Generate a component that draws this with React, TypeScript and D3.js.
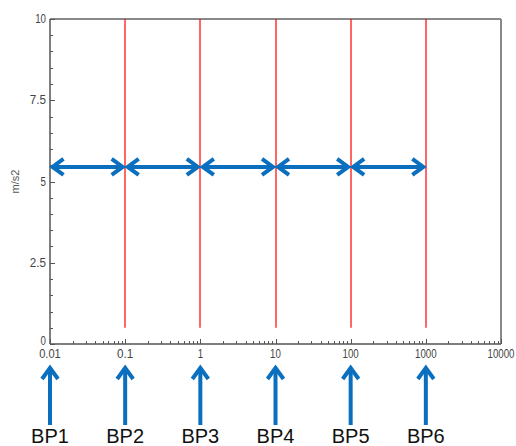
import React from "react";
import * as d3 from "d3";

// axis ticks
const xTicks = [0.01, 0.1, 1, 10, 100, 1000, 10000];
const xTickLabels = ["0.01", "0.1", "1", "10", "100", "1000", "10000"];
const yTicks = [0, 2.5, 5, 7.5, 10];
const yTickLabels = ["0", "2.5", "5", "7.5", "10"];
const yUnit = "m/s2";

// red break lines (x position, from y=0.5 to top)
const breakLines = [0.1, 1, 10, 100, 1000];
const breakLineFrom = 0.5;
const breakLineTo = 10;

// double arrows between break points
const spanStarts = [0.01, 0.1, 1, 10, 100];
const spanEnds = [0.1, 1, 10, 100, 1000];
const spanLevel = 5.45;

// break point markers under the axis
const bpNames = ["BP1", "BP2", "BP3", "BP4", "BP5", "BP6"];
const bpValues = [0.01, 0.1, 1, 10, 100, 1000];

const W = 516;
const H = 446;
const margin = { top: 19, right: 15, bottom: 102, left: 50 };
const tickFont = "Liberation Sans, Arial, sans-serif";

export default function App() {
  const x = d3.scaleLog().domain([0.01, 10000]).range([margin.left, W - margin.right]);
  const y = d3.scaleLinear().domain([0, 10]).range([H - margin.bottom, margin.top]);
  const px = (v: number) => Math.round(x(v)) + 0.5;
  const py = (v: number) => Math.round(y(v)) + 0.5;

  const x0 = x.range()[0];
  const x1 = x.range()[1];
  const y0 = y.range()[0];
  const y1 = y.range()[1];

  // minor x ticks: 2..9 of each decade
  const xMinor: number[] = [];
  for (let i = 0; i < xTicks.length - 1; i++) {
    for (let k = 2; k <= 9; k++) xMinor.push(xTicks[i] * k);
  }
  const yMinor = d3.range(0, 10.01, 0.5).filter(v => !yTicks.includes(v));

  const blue = "#0a6fbf";
  const axisColor = "#555";

  const arrowHead = (tx: number, ty: number, dx: number, dy: number) => {
    // chevron with tip at (tx,ty), pointing in direction (dx,dy)
    const len = 11;
    const half = 8;
    const bx = tx - dx * len;
    const by = ty - dy * len;
    const ox = -dy * half;
    const oy = dx * half;
    return `M${bx + ox},${by + oy}L${tx},${ty}L${bx - ox},${by - oy}`;
  };

  return (
    <svg width={W} height={H} style={{ position: "absolute", left: 0, top: 0, background: "#fff" }}>
      {/* frame */}
      <line x1={x0} x2={x1} y1={y1} y2={y1} stroke="#888" strokeWidth={2} />
      <line x1={x1} x2={x1} y1={y1} y2={y0} stroke="#888" strokeWidth={2} />

      {/* red break lines */}
      {breakLines.map(v => (
        <line key={"r" + v} x1={Math.round(x(v))} x2={Math.round(x(v))} y1={y(breakLineTo)} y2={y(breakLineFrom)} stroke="#ff0000" strokeWidth={1.2} />
      ))}

      {/* y axis */}
      <line x1={x0} x2={x0} y1={y1} y2={y0} stroke={axisColor} strokeWidth={1.5} />
      {yTicks.map(v => (
        <line key={"yt" + v} x1={x0} x2={x0 + 5} y1={py(v)} y2={py(v)} stroke={axisColor} />
      ))}
      {yMinor.map(v => (
        <line key={"ym" + v} x1={x0} x2={x0 + 3} y1={py(v)} y2={py(v)} stroke={axisColor} />
      ))}
      {yTicks.map((v, i) => (
        <text
          key={"yl" + v}
          x={x0 - 4}
          y={v === 0 ? y(v) + 1 : y(v) + 4}
          textAnchor="end"
          fontFamily={tickFont}
          fontSize={12}
          fill="#444"
          textLength={yTickLabels[i].length * 5.4}
          lengthAdjust="spacingAndGlyphs"
        >
          {yTickLabels[i]}
        </text>
      ))}
      <text
        transform={`translate(19,${(y0 + y1) / 2}) rotate(-90)`}
        textAnchor="middle"
        fontFamily={tickFont}
        fontSize={11}
        fill="#555"
      >
        {yUnit}
      </text>

      {/* x axis */}
      <line x1={x0} x2={x1} y1={y0} y2={y0} stroke={axisColor} strokeWidth={1.5} />
      {xTicks.map(v => (
        <line key={"xt" + v} x1={px(v)} x2={px(v)} y1={y0} y2={y0 - 5} stroke={axisColor} />
      ))}
      {xMinor.map(v => (
        <line key={"xm" + v} x1={px(v)} x2={px(v)} y1={y0} y2={y0 - 3} stroke={axisColor} />
      ))}
      {xTicks.map((v, i) => (
        <text
          key={"xl" + v}
          x={x(v)}
          y={y0 + 14}
          textAnchor="middle"
          fontFamily={tickFont}
          fontSize={12}
          fill="#444"
          textLength={xTickLabels[i].length * 5.4}
          lengthAdjust="spacingAndGlyphs"
        >
          {xTickLabels[i]}
        </text>
      ))}

      {/* double arrows */}
      {spanStarts.map((a, i) => {
        const xa = x(a) + 2.5;
        const xb = x(spanEnds[i]) - 2.5;
        const yy = y(spanLevel);
        return (
          <g key={"da" + i} fill="none" stroke={blue} strokeWidth={4}>
            <line x1={xa + 1} x2={xb - 1} y1={yy} y2={yy} />
            <path d={arrowHead(xa, yy, -1, 0)} strokeLinejoin="miter" />
            <path d={arrowHead(xb, yy, 1, 0)} strokeLinejoin="miter" />
          </g>
        );
      })}

      {/* break point markers */}
      {bpValues.map((v, i) => {
        const cx = x(v);
        const top = y0 + 24;
        const bottom = y0 + 81;
        return (
          <g key={"bp" + i}>
            <g fill="none" stroke={blue} strokeWidth={4}>
              <line x1={cx} x2={cx} y1={top + 1} y2={bottom} />
              <path d={arrowHead(cx, top, 0, -1)} strokeLinejoin="miter" />
            </g>
            <text x={cx} y={H - 3} textAnchor="middle" fontFamily="Liberation Sans, Arial, sans-serif" fontSize={20} fill="#111">
              {bpNames[i]}
            </text>
          </g>
        );
      })}
    </svg>
  );
}
